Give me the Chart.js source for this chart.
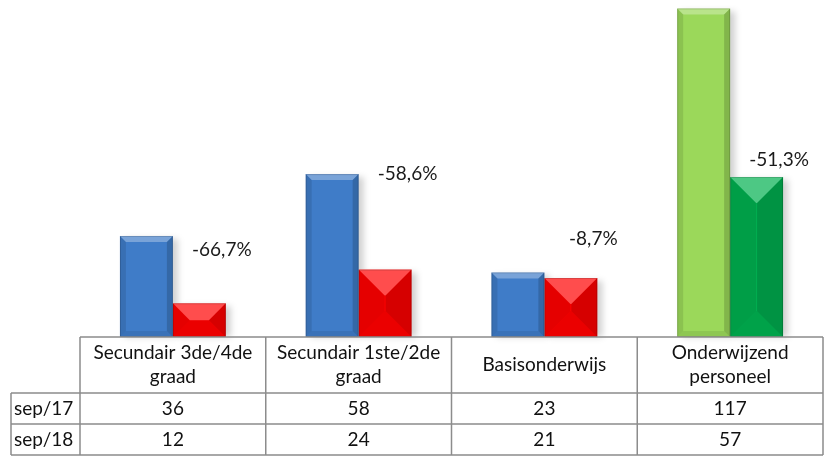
<!DOCTYPE html>
<html>
<head>
<meta charset="utf-8">
<script src="https://cdn.jsdelivr.net/npm/chart.js@4/dist/chart.umd.min.js"></script>
<style>
  html, body { margin: 0; padding: 0; background: #fff; }
  #wrap { width: 832px; height: 456px; position: relative; }
</style>
</head>
<body>
<div id="wrap"><canvas id="chart"></canvas></div>
<script>
const categories = [['Secundair 3de/4de', 'graad'], ['Secundair 1ste/2de', 'graad'], ['Basisonderwijs'], ['Onderwijzend', 'personeel']];
const seriesNames = ['sep/17', 'sep/18'];
const sep17 = [36, 58, 23, 117];
const sep18 = [12, 24, 21, 57];
// height (in data units) where each change label sits
const labelLevels = [31, 58, 35, 63];

const FONT = 'Lato, "Open Sans", sans-serif';
const GRID = '#8c8c8c';

const fill17 = ['#3f7cc8', '#3f7cc8', '#3f7cc8', '#9bd85a'];
const fill18 = ['#ff0000', '#ff0000', '#ff0000', '#00b050'];

function pctText(a, b) {
  return (((b - a) / a) * 100).toFixed(1).replace('.', ',') + '%';
}

// bevel shading on each bar (big "pyramid" bevel on second series)
const bevelPlugin = {
  id: 'bevel',
  beforeDatasetsDraw(chart) {
    const ctx = chart.ctx;
    ctx.save();
    chart.data.datasets.forEach((ds, di) => {
      chart.getDatasetMeta(di).data.forEach(bar => {
        const x0 = bar.x - bar.width / 2, y0 = bar.y;
        const h = bar.base - bar.y;
        ctx.fillStyle = 'rgba(0,0,0,0.18)';
        ctx.filter = 'blur(3px)';
        ctx.fillRect(x0 + 5, y0 + 3, bar.width, h - 3);
        ctx.filter = 'none';
      });
    });
    ctx.restore();
  },
  afterDatasetsDraw(chart) {
    const ctx = chart.ctx;
    ctx.save();
    chart.data.datasets.forEach((ds, di) => {
      chart.getDatasetMeta(di).data.forEach(bar => {
        const w = bar.width, h = bar.base - bar.y;
        const x0 = bar.x - w / 2, x1 = bar.x + w / 2, y0 = bar.y, y1 = bar.base;
        const b = di === 0 ? 6 : Math.min(w / 2, h / 2, 26);
        const poly = (pts, col) => {
          ctx.beginPath();
          ctx.moveTo(pts[0][0], pts[0][1]);
          pts.slice(1).forEach(p => ctx.lineTo(p[0], p[1]));
          ctx.closePath();
          ctx.fillStyle = col;
          ctx.fill();
        };
        // top
        poly([[x0, y0], [x1, y0], [x1 - b, y0 + b], [x0 + b, y0 + b]], 'rgba(255,255,255,0.30)');
        // left
        poly([[x0, y0], [x0 + b, y0 + b], [x0 + b, y1 - b], [x0, y1]], 'rgba(0,0,0,0.10)');
        // right
        poly([[x1, y0], [x1 - b, y0 + b], [x1 - b, y1 - b], [x1, y1]], 'rgba(0,0,0,0.16)');
        // bottom
        poly([[x0, y1], [x0 + b, y1 - b], [x1 - b, y1 - b], [x1, y1]], 'rgba(0,0,0,0.08)');
        ctx.strokeStyle = 'rgba(0,0,0,0.15)';
        ctx.lineWidth = 1;
        ctx.strokeRect(x0 + 0.5, y0 + 0.5, w - 1, h - 1);
      });
    });
    ctx.restore();
  }
};

// change labels + data table under the plot
const tablePlugin = {
  id: 'dataTable',
  afterDraw(chart) {
    const ctx = chart.ctx;
    const xs = chart.scales.x, ys = chart.scales.y;
    const area = chart.chartArea;
    const half = (xs.getPixelForValue(1) - xs.getPixelForValue(0)) / 2;
    const meta = chart.getDatasetMeta(1);
    ctx.save();
    ctx.fillStyle = '#1a1a1a';
    ctx.font = '19px ' + FONT;
    ctx.textAlign = 'center';
    ctx.textBaseline = 'middle';
    sep17.forEach((v, i) => {
      const bar = meta.data[i];
      ctx.fillText(pctText(v, sep18[i]), bar.x + bar.width / 2 - 4, ys.getPixelForValue(labelLevels[i]));
    });

    const top = area.bottom;
    const rowH = [56, 31, 31];
    const r1 = top + rowH[0], r2 = r1 + rowH[1], r3 = r2 + rowH[2];
    const left = 11;
    const xl = area.left, xr = area.right;
    ctx.strokeStyle = GRID;
    ctx.lineWidth = 1.5;
    ctx.beginPath();
    ctx.moveTo(xl, top); ctx.lineTo(xr, top);
    ctx.moveTo(left, r1); ctx.lineTo(xr, r1);
    ctx.moveTo(left, r2); ctx.lineTo(xr, r2);
    ctx.moveTo(left, r3); ctx.lineTo(xr, r3);
    ctx.moveTo(left, r1); ctx.lineTo(left, r3);
    ctx.moveTo(xl, top); ctx.lineTo(xl, r3);
    categories.forEach((c, i) => {
      const xe = xs.getPixelForValue(i) + half;
      ctx.moveTo(xe, top); ctx.lineTo(xe, r3);
    });
    ctx.stroke();

    ctx.fillStyle = '#111';
    ctx.font = '19px ' + FONT;
    categories.forEach((lines, i) => {
      const cx = xs.getPixelForValue(i);
      const mid = top + rowH[0] / 2;
      lines.forEach((t, k) => {
        ctx.fillText(t, cx, mid + (k - (lines.length - 1) / 2) * 24);
      });
      ctx.fillText(String(sep17[i]), cx, (r1 + r2) / 2);
      ctx.fillText(String(sep18[i]), cx, (r2 + r3) / 2);
    });
    ctx.textAlign = 'left';
    ctx.fillText(seriesNames[0], left + 3, (r1 + r2) / 2);
    ctx.fillText(seriesNames[1], left + 3, (r2 + r3) / 2);
    ctx.restore();
  }
};

new Chart(document.getElementById('chart'), {
  type: 'bar',
  data: {
    labels: categories.map(c => c.join(' ')),
    datasets: [
      { label: seriesNames[0], data: sep17, backgroundColor: fill17, borderWidth: 0 },
      { label: seriesNames[1], data: sep18, backgroundColor: fill18, borderWidth: 0 }
    ]
  },
  options: {
    responsive: true,
    maintainAspectRatio: false,
    animation: false,
    layout: { padding: { left: 80, right: 9, top: 0, bottom: 119 } },
    datasets: { bar: { categoryPercentage: 0.57, barPercentage: 1 } },
    plugins: { legend: { display: false }, tooltip: { enabled: false } },
    scales: {
      x: { display: false },
      y: { display: false, min: 0, max: 120 }
    }
  },
  plugins: [bevelPlugin, tablePlugin]
});
</script>
</body>
</html>
